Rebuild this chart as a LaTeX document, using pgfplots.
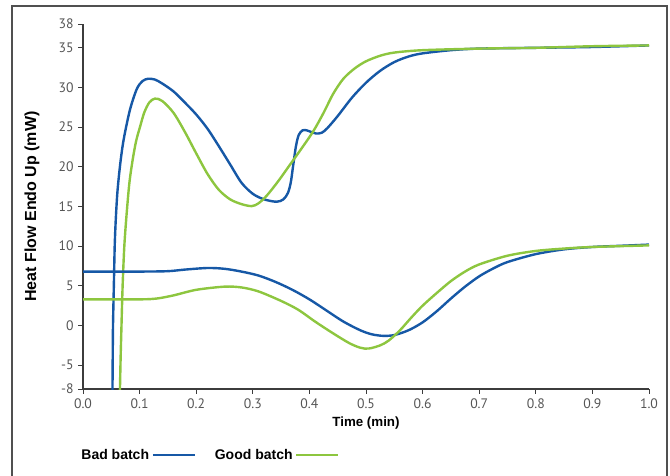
\documentclass[border=0pt]{standalone}
\usepackage{pgfplots}
\pgfplotsset{compat=1.18}
\usepackage{fontspec}
\setmainfont{Liberation Sans}
\newfontfamily\tickfont{PT Sans}
\definecolor{badblue}{RGB}{22,88,166}
\definecolor{goodgreen}{RGB}{141,198,63}
\definecolor{axisgray}{RGB}{60,60,60}
\definecolor{ticktext}{RGB}{85,85,85}
\definecolor{framegray}{RGB}{80,80,80}

\begin{document}
\begin{tikzpicture}
% page = 670 x 475 px, 1 px = 0.75pt
\useasboundingbox (0pt,0pt) rectangle (502.5pt,-356.25pt);
\clip (0pt,0pt) rectangle (502.5pt,-356.25pt);
\draw[framegray, line width=1.1pt] (9pt,-370pt) -- (9pt,-4.5pt) -- (500.25pt,-4.5pt) -- (500.25pt,-370pt);

\begin{axis}[
    at={(62.25pt,-291.75pt)}, anchor=south west,
    width=424.5pt, height=273.75pt, scale only axis,
    xmin=0, xmax=1, ymin=-8, ymax=38,
    axis lines*=left,
    axis line style={axisgray, line width=0.8pt},
    tick style={axisgray, line width=0.7pt},
    tick align=outside, major tick length=3.5pt,
    xtick={0,0.1,...,1.0},
    ytick={-8,-5,0,5,10,15,20,25,30,35,38},
    /pgf/number format/assume math mode=true,
    xticklabel style={/pgf/number format/fixed, /pgf/number format/fixed zerofill, /pgf/number format/precision=1},
    tick label style={font=\tickfont\fontsize{10.3}{12}\selectfont, text=ticktext},
    xlabel={Time (min)},
    ylabel={Heat Flow Endo Up (mW)},
    xlabel style={font=\bfseries\fontsize{10}{12}\selectfont, at={(axis description cs:0.5,-0.093)}, anchor=center},
    ylabel style={font=\bfseries\fontsize{12}{14}\selectfont, at={(axis description cs:-0.09,0.5)}, anchor=center},
    legend plot pos=right,
    legend columns=2,
    legend image code/.code={\draw[#1] (0pt,0pt) -- (31.5pt,0pt);},
    legend style={draw=none, fill=none, font=\bfseries\fontsize{10.5}{12}\selectfont,
        at={(axis description cs:-0.008,-0.181)}, anchor=west, inner sep=0pt,
        /tikz/every even column/.append style={column sep=12pt}},
    clip=true,
]
\addplot[badblue, line width=1.8pt, smooth] coordinates {
(0.052,-9) (0.0525,-4) (0.053,0) (0.0545,5) (0.056,10) (0.058,13.5) (0.061,17) (0.066,20.5)
(0.072,23.5) (0.083,27.2) (0.095,29.8) (0.105,30.8) (0.115,31.1) (0.127,31.0) (0.14,30.5)
(0.16,29.5) (0.18,28.1) (0.20,26.6) (0.22,24.8) (0.24,22.6) (0.26,20.3) (0.28,18.0)
(0.30,16.6) (0.32,15.9) (0.342,15.6) (0.354,15.9) (0.362,16.7)
(0.367,18.0) (0.371,20.0) (0.376,22.5) (0.381,24.0) (0.388,24.6) (0.395,24.6) (0.403,24.4)
(0.412,24.2) (0.422,24.3) (0.432,24.9) (0.45,26.4) (0.475,28.7) (0.5,30.6) (0.525,32.1)
(0.55,33.2) (0.575,33.9) (0.6,34.3) (0.65,34.7) (0.7,34.9) (0.8,35.0) (0.9,35.1) (1.0,35.3)
};
\addlegendentry{Bad batch}
\addplot[goodgreen, line width=1.8pt, smooth] coordinates {
(0.065,-9) (0.0665,-4) (0.068,0) (0.070,5) (0.073,10) (0.077,14) (0.082,18) (0.088,21)
(0.094,23.3) (0.101,25.1) (0.108,26.8) (0.117,28.1) (0.127,28.6) (0.14,28.3) (0.16,26.8)
(0.18,24.4) (0.20,21.7) (0.22,19.1) (0.24,17.1) (0.26,15.9) (0.28,15.3) (0.298,15.05)
(0.31,15.4) (0.325,16.4) (0.345,18.2) (0.366,20.3) (0.385,22.2)
(0.407,24.5) (0.425,26.8) (0.442,29.2) (0.46,31.1) (0.48,32.4) (0.5,33.3) (0.525,34.0)
(0.55,34.4) (0.6,34.7) (0.7,34.9) (0.8,35.0) (0.9,35.2) (1.0,35.3)
};
\addlegendentry{Good batch}
\addplot[badblue, line width=1.8pt, smooth, forget plot] coordinates {
(0,6.8) (0.1,6.8) (0.15,6.85) (0.18,7.05) (0.22,7.25) (0.25,7.15) (0.28,6.8) (0.31,6.3)
(0.34,5.5) (0.37,4.5) (0.4,3.3) (0.43,1.9) (0.46,0.5) (0.49,-0.6) (0.51,-1.1) (0.53,-1.3)
(0.55,-1.2) (0.575,-0.6) (0.6,0.4) (0.625,1.8) (0.65,3.4) (0.675,4.9) (0.7,6.2) (0.725,7.2)
(0.75,8.0) (0.8,9.0) (0.85,9.6) (0.9,9.9) (0.95,10.05) (1.0,10.2)
};
\addplot[goodgreen, line width=1.8pt, smooth, forget plot] coordinates {
(0,3.3) (0.1,3.3) (0.13,3.4) (0.16,3.8) (0.2,4.5) (0.25,4.9) (0.28,4.8) (0.31,4.3)
(0.35,3.1) (0.38,2.0) (0.41,0.5) (0.44,-0.9) (0.47,-2.2) (0.49,-2.8) (0.505,-2.9)
(0.525,-2.5) (0.54,-1.9) (0.56,-0.6) (0.58,1.0) (0.6,2.5) (0.625,4.1) (0.65,5.6)
(0.675,6.8) (0.7,7.7) (0.75,8.8) (0.8,9.4) (0.85,9.7) (0.9,9.9) (1.0,10.1)
};
\end{axis}
\end{tikzpicture}
\end{document}
